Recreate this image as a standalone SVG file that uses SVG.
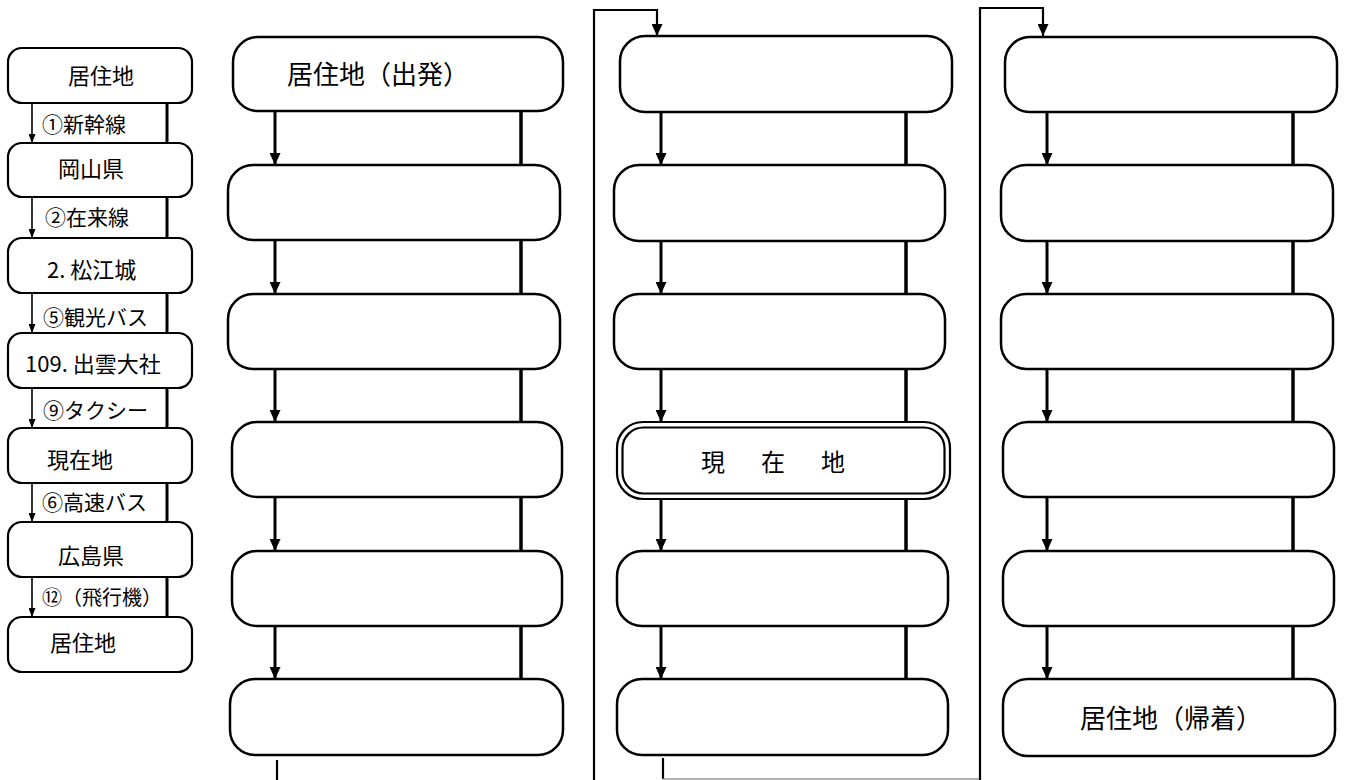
<svg xmlns="http://www.w3.org/2000/svg" width="1346" height="780" viewBox="0 0 1346 780">
<style>
.bx{fill:#fff;stroke:#000;stroke-width:2.5}
.sb{fill:#fff;stroke:#000;stroke-width:2.2}
.t{font-family:"Noto Sans CJK JP","Noto Sans CJK SC",sans-serif;fill:#000}
.lt{font-size:22px}
.lb{font-size:21px}
.big{font-size:26px}
.ar{stroke:#000;stroke-width:3;fill:none}
.rl{stroke:#000;stroke-width:3.5;fill:none}
.sa{stroke:#000;stroke-width:1.6;fill:none}
.sr{stroke:#000;stroke-width:3;fill:none}
.dv{stroke:#000;stroke-width:2.2;fill:none}
</style>
<defs>
<marker id="ah" markerUnits="userSpaceOnUse" markerWidth="12" markerHeight="11" refX="12" refY="5.5" orient="auto"><path d="M0,0 L12,5.5 L0,11 z" fill="#000"/></marker>
<marker id="sah" markerUnits="userSpaceOnUse" markerWidth="9" markerHeight="7" refX="9" refY="3.5" orient="auto"><path d="M0,0 L9,3.5 L0,7 z" fill="#000"/></marker>
</defs>
<rect width="1346" height="780" fill="#fff"/>

<g id="connectors">
<!-- left summary column -->
<g>
<line class="sa" x1="32" y1="103" x2="32" y2="143" marker-end="url(#sah)"/>
<line class="sa" x1="32" y1="197" x2="32" y2="238" marker-end="url(#sah)"/>
<line class="sa" x1="32" y1="293" x2="32" y2="333" marker-end="url(#sah)"/>
<line class="sa" x1="32" y1="388" x2="32" y2="428" marker-end="url(#sah)"/>
<line class="sa" x1="32" y1="483" x2="32" y2="522" marker-end="url(#sah)"/>
<line class="sa" x1="32" y1="577" x2="32" y2="617" marker-end="url(#sah)"/>
<line class="sr" x1="167" y1="103" x2="167" y2="143"/>
<line class="sr" x1="167" y1="197" x2="167" y2="238"/>
<line class="sr" x1="167" y1="293" x2="167" y2="333"/>
<line class="sr" x1="167" y1="388" x2="167" y2="428"/>
<line class="sr" x1="167" y1="483" x2="167" y2="522"/>
<line class="sr" x1="167" y1="577" x2="167" y2="617"/>
</g>
<!-- column 1 -->
<g>
<line class="ar" x1="275" y1="111" x2="275" y2="165" marker-end="url(#ah)"/>
<line class="ar" x1="275" y1="240" x2="275" y2="294" marker-end="url(#ah)"/>
<line class="ar" x1="275" y1="369" x2="275" y2="422" marker-end="url(#ah)"/>
<line class="ar" x1="275" y1="497" x2="275" y2="551" marker-end="url(#ah)"/>
<line class="ar" x1="275" y1="626" x2="275" y2="679" marker-end="url(#ah)"/>
<line class="rl" x1="521" y1="111" x2="521" y2="165"/>
<line class="rl" x1="521" y1="240" x2="521" y2="294"/>
<line class="rl" x1="521" y1="369" x2="521" y2="422"/>
<line class="rl" x1="521" y1="497" x2="521" y2="551"/>
<line class="rl" x1="521" y1="626" x2="521" y2="679"/>
<line class="dv" x1="277" y1="760" x2="277" y2="780"/>
<polyline class="dv" points="594,780 594,10 657,10 657,36" marker-end="url(#ah)"/>
</g>
<!-- column 2 -->
<g>
<line class="ar" x1="661" y1="112" x2="661" y2="165" marker-end="url(#ah)"/>
<line class="ar" x1="661" y1="241" x2="661" y2="294" marker-end="url(#ah)"/>
<line class="ar" x1="661" y1="369" x2="661" y2="422" marker-end="url(#ah)"/>
<line class="ar" x1="661" y1="499" x2="661" y2="551" marker-end="url(#ah)"/>
<line class="ar" x1="661" y1="626" x2="661" y2="679" marker-end="url(#ah)"/>
<line class="rl" x1="906" y1="112" x2="906" y2="165"/>
<line class="rl" x1="906" y1="241" x2="906" y2="294"/>
<line class="rl" x1="906" y1="369" x2="906" y2="422"/>
<line class="rl" x1="906" y1="499" x2="906" y2="551"/>
<line class="rl" x1="906" y1="626" x2="906" y2="679"/>
<line class="dv" x1="663" y1="758" x2="663" y2="779"/>
<line x1="663" y1="779" x2="980" y2="779" stroke="#999" stroke-width="1.5"/>
<polyline class="dv" points="980,780 980,8 1043,8 1043,36" marker-end="url(#ah)"/>
</g>
<!-- column 3 -->
<g>
<line class="ar" x1="1047" y1="112" x2="1047" y2="165" marker-end="url(#ah)"/>
<line class="ar" x1="1047" y1="241" x2="1047" y2="294" marker-end="url(#ah)"/>
<line class="ar" x1="1047" y1="369" x2="1047" y2="422" marker-end="url(#ah)"/>
<line class="ar" x1="1047" y1="497" x2="1047" y2="551" marker-end="url(#ah)"/>
<line class="ar" x1="1047" y1="626" x2="1047" y2="679" marker-end="url(#ah)"/>
<line class="rl" x1="1293" y1="112" x2="1293" y2="165"/>
<line class="rl" x1="1293" y1="241" x2="1293" y2="294"/>
<line class="rl" x1="1293" y1="369" x2="1293" y2="422"/>
<line class="rl" x1="1293" y1="497" x2="1293" y2="551"/>
<line class="rl" x1="1293" y1="626" x2="1293" y2="679"/>
</g>
<!-- labels on left column -->
<g class="t lb">
<text x="42" y="132">①新幹線</text>
<text x="45" y="225">②在来線</text>
<text x="43" y="325">⑤観光バス</text>
<text x="43" y="418">⑨タクシー</text>
<text x="42" y="510">⑥高速バス</text>
<text x="42" y="605" style="font-size:20px">⑫（飛行機）</text>
</g>
</g>

<!-- left summary nodes -->
<g id="s1"><rect class="sb" x="8" y="48" width="184" height="55" rx="14"/><text class="t lt" x="68" y="84">居住地</text></g>
<g id="s2"><rect class="sb" x="8" y="143" width="184" height="54" rx="14"/><text class="t lt" x="58" y="177">岡山県</text></g>
<g id="s3"><rect class="sb" x="8" y="238" width="184" height="55" rx="14"/><text class="t lt" x="47" y="278">2. 松江城</text></g>
<g id="s4"><rect class="sb" x="8" y="333" width="184" height="55" rx="14"/><text class="t lt" x="25" y="372">109. 出雲大社</text></g>
<g id="s5"><rect class="sb" x="8" y="428" width="184" height="55" rx="14"/><text class="t lt" x="47" y="468">現在地</text></g>
<g id="s6"><rect class="sb" x="8" y="522" width="184" height="55" rx="14"/><text class="t lt" x="58" y="564">広島県</text></g>
<g id="s7"><rect class="sb" x="8" y="617" width="184" height="55" rx="14"/><text class="t lt" x="50" y="651">居住地</text></g>

<!-- column 1 nodes -->
<g id="c1n1"><rect class="bx" x="233" y="37" width="330" height="74" rx="25"/><text class="t big" x="287" y="84">居住地（出発）</text></g>
<g id="c1n2"><rect class="bx" x="228" y="165" width="332" height="75" rx="25"/></g>
<g id="c1n3"><rect class="bx" x="228" y="294" width="332" height="75" rx="25"/></g>
<g id="c1n4"><rect class="bx" x="232" y="422" width="330" height="75" rx="25"/></g>
<g id="c1n5"><rect class="bx" x="232" y="551" width="330" height="75" rx="25"/></g>
<g id="c1n6"><rect class="bx" x="230" y="679" width="333" height="76" rx="25"/></g>

<!-- column 2 nodes -->
<g id="c2n1"><rect class="bx" x="620" y="36" width="332" height="76" rx="25"/></g>
<g id="c2n2"><rect class="bx" x="614" y="165" width="331" height="76" rx="25"/></g>
<g id="c2n3"><rect class="bx" x="614" y="294" width="331" height="75" rx="25"/></g>
<g id="c2n4"><rect class="bx" x="617" y="422" width="333" height="77" rx="26" style="stroke-width:2.2"/><rect class="bx" x="622.5" y="427.5" width="322" height="66" rx="21" style="stroke-width:2.2"/><text class="t" x="776" y="471" text-anchor="middle" style="font-size:24px;letter-spacing:6px">現　在　地</text></g>
<g id="c2n5"><rect class="bx" x="617" y="551" width="331" height="75" rx="25"/></g>
<g id="c2n6"><rect class="bx" x="617" y="679" width="331" height="76" rx="25"/></g>

<!-- column 3 nodes -->
<g id="c3n1"><rect class="bx" x="1005" y="37" width="332" height="75" rx="25"/></g>
<g id="c3n2"><rect class="bx" x="1001" y="165" width="332" height="76" rx="25"/></g>
<g id="c3n3"><rect class="bx" x="1001" y="294" width="332" height="75" rx="25"/></g>
<g id="c3n4"><rect class="bx" x="1003" y="422" width="331" height="75" rx="25"/></g>
<g id="c3n5"><rect class="bx" x="1003" y="551" width="331" height="75" rx="25"/></g>
<g id="c3n6"><rect class="bx" x="1003" y="679" width="332" height="77" rx="25"/><text class="t big" x="1080" y="728">居住地（帰着）</text></g>
</svg>
